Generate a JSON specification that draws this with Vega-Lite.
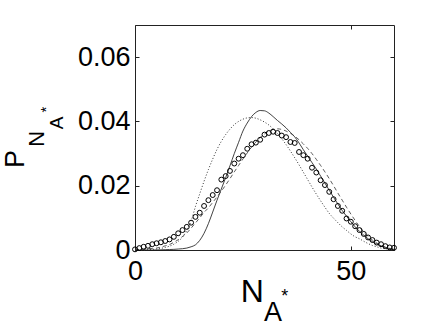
{
 "$schema": "https://vega.github.io/schema/vega-lite/v6.json",
 "width": 259,
 "height": 225,
 "autosize": {"type": "none"},
 "padding": {"left": 135, "top": 25, "right": 42, "bottom": 77},
 "background": "white",
 "config": {
  "view": {"stroke": "#222", "strokeWidth": 1},
  "font": "Liberation Sans",
  "axis": {"grid": false, "domain": false, "labelFont": "Liberation Sans", "titleFont": "Liberation Sans", "titleFontWeight": "normal", "titleColor": "#000", "labelColor": "#000", "tickColor": "#222", "labelFlush": false, "labelOverlap": false, "labelBound": false}
 },
 "data": {"values": [
  {"N":0,"obs":0.0002,"s":0,"d":0.0001,"t":0},
  {"N":1,"obs":0.0006,"s":0,"d":0.0002,"t":0},
  {"N":2,"obs":0.0010,"s":0,"d":0.0003,"t":0},
  {"N":3,"obs":0.0013,"s":0,"d":0.0004,"t":0.0001},
  {"N":4,"obs":0.0018,"s":0,"d":0.0005,"t":0.0002},
  {"N":5,"obs":0.0021,"s":0.00002,"d":0.0006,"t":0.0003},
  {"N":6,"obs":0.0024,"s":0.00005,"d":0.0009,"t":0.0005},
  {"N":7,"obs":0.0028,"s":0.0001,"d":0.0013,"t":0.0008},
  {"N":8,"obs":0.0033,"s":0.00015,"d":0.0017,"t":0.0012},
  {"N":9,"obs":0.0041,"s":0.0002,"d":0.0024,"t":0.0018},
  {"N":10,"obs":0.0052,"s":0.0003,"d":0.0032,"t":0.0027},
  {"N":11,"obs":0.0062,"s":0.0004,"d":0.0042,"t":0.0040},
  {"N":12,"obs":0.0072,"s":0.0006,"d":0.0053,"t":0.0062},
  {"N":13,"obs":0.0085,"s":0.0010,"d":0.0068,"t":0.0090},
  {"N":14,"obs":0.0103,"s":0.0016,"d":0.0084,"t":0.0135},
  {"N":15,"obs":0.0116,"s":0.0030,"d":0.0100,"t":0.0175},
  {"N":16,"obs":0.0137,"s":0.0052,"d":0.0117,"t":0.0214},
  {"N":17,"obs":0.0155,"s":0.0082,"d":0.0131,"t":0.0250},
  {"N":18,"obs":0.0171,"s":0.0118,"d":0.0148,"t":0.0283},
  {"N":19,"obs":0.0186,"s":0.0155,"d":0.0165,"t":0.0313},
  {"N":20,"obs":0.0219,"s":0.0190,"d":0.0183,"t":0.0338},
  {"N":21,"obs":0.0230,"s":0.0225,"d":0.0202,"t":0.0359},
  {"N":22,"obs":0.0246,"s":0.0262,"d":0.0222,"t":0.0376},
  {"N":23,"obs":0.0269,"s":0.0300,"d":0.0243,"t":0.0390},
  {"N":24,"obs":0.0284,"s":0.0335,"d":0.0263,"t":0.0400},
  {"N":25,"obs":0.0295,"s":0.0370,"d":0.0283,"t":0.0407},
  {"N":26,"obs":0.0315,"s":0.0395,"d":0.0302,"t":0.0411},
  {"N":27,"obs":0.0329,"s":0.0415,"d":0.0320,"t":0.0412},
  {"N":28,"obs":0.0334,"s":0.0428,"d":0.0336,"t":0.0410},
  {"N":29,"obs":0.0343,"s":0.0434,"d":0.0350,"t":0.0405},
  {"N":30,"obs":0.0359,"s":0.0433,"d":0.0361,"t":0.0398},
  {"N":31,"obs":0.0364,"s":0.0426,"d":0.0370,"t":0.0389},
  {"N":32,"obs":0.0368,"s":0.0415,"d":0.0375,"t":0.0377},
  {"N":33,"obs":0.0364,"s":0.0403,"d":0.0377,"t":0.0362},
  {"N":34,"obs":0.0356,"s":0.0392,"d":0.0375,"t":0.0346},
  {"N":35,"obs":0.0351,"s":0.0380,"d":0.0370,"t":0.0328},
  {"N":36,"obs":0.0336,"s":0.0366,"d":0.0363,"t":0.0308},
  {"N":37,"obs":0.0333,"s":0.0352,"d":0.0354,"t":0.0287},
  {"N":38,"obs":0.0305,"s":0.0333,"d":0.0343,"t":0.0265},
  {"N":39,"obs":0.0295,"s":0.0312,"d":0.0330,"t":0.0242},
  {"N":40,"obs":0.0284,"s":0.0292,"d":0.0316,"t":0.0219},
  {"N":41,"obs":0.0256,"s":0.0272,"d":0.0300,"t":0.0196},
  {"N":42,"obs":0.0241,"s":0.0252,"d":0.0282,"t":0.0174},
  {"N":43,"obs":0.0217,"s":0.0230,"d":0.0263,"t":0.0153},
  {"N":44,"obs":0.0202,"s":0.0208,"d":0.0243,"t":0.0133},
  {"N":45,"obs":0.0181,"s":0.0186,"d":0.0222,"t":0.0114},
  {"N":46,"obs":0.0158,"s":0.0164,"d":0.0200,"t":0.0099},
  {"N":47,"obs":0.0137,"s":0.0143,"d":0.0177,"t":0.0085},
  {"N":48,"obs":0.0122,"s":0.0123,"d":0.0155,"t":0.0072},
  {"N":49,"obs":0.0098,"s":0.0105,"d":0.0133,"t":0.0061},
  {"N":50,"obs":0.0088,"s":0.0088,"d":0.0112,"t":0.0050},
  {"N":51,"obs":0.0074,"s":0.0072,"d":0.0092,"t":0.0041},
  {"N":52,"obs":0.0062,"s":0.0058,"d":0.0073,"t":0.0035},
  {"N":53,"obs":0.0050,"s":0.0046,"d":0.0056,"t":0.0027},
  {"N":54,"obs":0.0039,"s":0.0035,"d":0.0042,"t":0.0020},
  {"N":55,"obs":0.0031,"s":0.0026,"d":0.0031,"t":0.0014},
  {"N":56,"obs":0.0023,"s":0.0019,"d":0.0022,"t":0.0010},
  {"N":57,"obs":0.0018,"s":0.0013,"d":0.0014,"t":0.0006},
  {"N":58,"obs":0.0012,"s":0.0008,"d":0.0009,"t":0.0004},
  {"N":59,"obs":0.0008,"s":0.0004,"d":0.0005,"t":0.0002},
  {"N":60,"obs":0.0007,"s":0.0002,"d":0.0002,"t":0.0001}
 ]},
 "resolve": {"axis": {"x": "independent", "y": "independent"}},
 "layer": [
  {
   "mark": {"type": "line", "color": "#111", "strokeWidth": 0.8, "interpolate": "monotone"},
   "encoding": {
    "x": {"field": "N", "type": "quantitative", "scale": {"domain": [0, 60], "nice": false, "zero": false},
     "axis": {"orient": "top", "values": [0, 50], "labels": false, "tickSize": -4, "title": "A", "titleFontSize": 27, "titleX": 137.5, "titleY": 295, "titleAlign": "center", "titleBaseline": "alphabetic", "titleAngle": 0}},
    "y": {"field": "s", "type": "quantitative", "scale": {"domain": [0, 0.07], "nice": false},
     "axis": {"orient": "right", "values": [0, 0.02, 0.04, 0.06], "labels": false, "tickSize": -4, "title": "N", "titleFontSize": 22, "titleAngle": -90, "titleX": -350.5, "titleY": 113.4, "titleAlign": "center", "titleBaseline": "alphabetic"}}
   }
  },
  {
   "mark": {"type": "line", "color": "#333", "strokeWidth": 0.8, "strokeDash": [4, 3], "interpolate": "monotone"},
   "encoding": {
    "x": {"field": "N", "type": "quantitative",
     "axis": {"orient": "bottom", "values": [0, 50], "labels": false, "ticks": false, "title": "*", "titleFontSize": 18, "titleX": 149.2, "titleY": 51, "titleAlign": "center", "titleBaseline": "alphabetic", "titleAngle": 0}},
    "y": {"field": "d", "type": "quantitative",
     "axis": {"orient": "left", "values": [0, 0.02, 0.04, 0.06], "labels": false, "ticks": false, "title": "A", "titleFontSize": 19, "titleAngle": -90, "titleX": -72.5, "titleY": 97.5, "titleAlign": "center", "titleBaseline": "alphabetic"}}
   }
  },
  {
   "mark": {"type": "line", "color": "#333", "strokeWidth": 1, "strokeDash": [1, 2], "interpolate": "monotone"},
   "encoding": {
    "x": {"field": "N", "type": "quantitative", "axis": null},
    "y": {"field": "t", "type": "quantitative",
     "axis": {"orient": "left", "values": [0, 0.02, 0.04, 0.06], "labels": false, "ticks": false, "title": "*", "titleFontSize": 15, "titleAngle": -90, "titleX": -85, "titleY": 84, "titleAlign": "center", "titleBaseline": "alphabetic"}}
   }
  },
  {
   "mark": {"type": "point", "shape": "circle", "filled": false, "stroke": "#000", "strokeWidth": 1, "size": 24, "opacity": 1},
   "encoding": {
    "x": {"field": "N", "type": "quantitative",
     "axis": {"orient": "bottom", "values": [0, 50], "tickSize": -4, "labelPadding": 12, "labelFontSize": 27, "title": "N", "titleFontSize": 32, "titleX": 116.7, "titleY": 51.7, "titleAlign": "center", "titleBaseline": "alphabetic", "titleAngle": 0}},
    "y": {"field": "obs", "type": "quantitative",
     "axis": {"orient": "left", "values": [0, 0.02, 0.04, 0.06], "format": ".2~f", "tickSize": -4, "labelPadding": 9, "labelFontSize": 27, "title": "P", "titleFontSize": 27, "titleAngle": -90, "titleX": -111.5, "titleY": 133.4, "titleAlign": "center", "titleBaseline": "alphabetic"}}
   }
  }
 ]
}
